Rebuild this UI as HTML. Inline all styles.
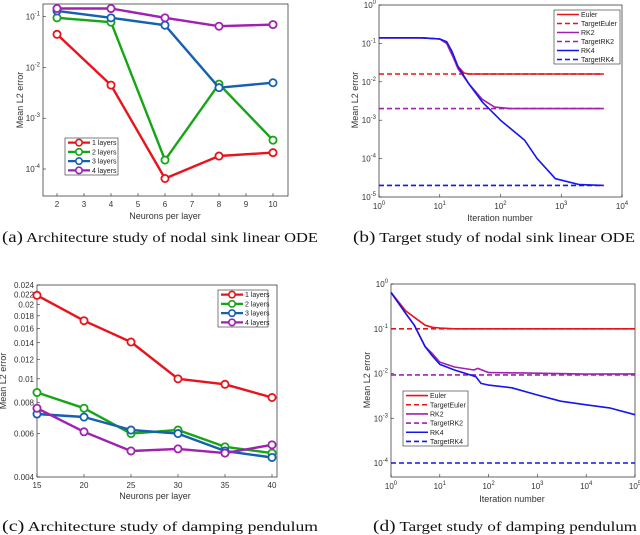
<!DOCTYPE html>
<html><head><meta charset="utf-8">
<style>
body{margin:0;background:#fff;width:640px;height:535px;overflow:hidden}
svg{display:block}
text{font-family:"Liberation Sans",sans-serif}
.cap{font-family:"Liberation Serif",serif;font-size:14px;fill:#111}
</style></head><body>
<svg id="fig" width="640" height="535" viewBox="0 0 640 535" xmlns="http://www.w3.org/2000/svg">
<text class="cap" x="2" y="242" textLength="316" lengthAdjust="spacingAndGlyphs"><tspan font-size="16">(a)</tspan> Architecture study of nodal sink linear ODE</text>
<text class="cap" x="353" y="242" textLength="282" lengthAdjust="spacingAndGlyphs"><tspan font-size="16">(b)</tspan> Target study of nodal sink linear ODE</text>
<text class="cap" x="2" y="531" textLength="316" lengthAdjust="spacingAndGlyphs"><tspan font-size="16">(c)</tspan> Architecture study of damping pendulum</text>
<text class="cap" x="373" y="531" textLength="264" lengthAdjust="spacingAndGlyphs"><tspan font-size="16">(d)</tspan> Target study of damping pendulum</text>
</svg>
<script>
// ---- data ----
const aX=[2,4,6,8,10];
const a1=[0.045,0.0045,6.5e-5,1.8e-4,2.1e-4];
const a2=[0.095,0.078,1.5e-4,4.7e-3,3.7e-4];
const a3=[0.13,0.095,0.068,4e-3,5e-3];
const a4=[0.145,0.145,0.095,0.065,0.07];
const cX=[15,20,25,30,35,40];
const c1=[0.0218,0.0172,0.0141,0.0100,0.0095,0.0084];
const c2=[0.0088,0.0076,0.0060,0.0062,0.0053,0.0050];
const c3=[0.0072,0.0070,0.0062,0.0060,0.0051,0.0048];
const c4=[0.0076,0.0061,0.0051,0.0052,0.0050,0.0054];
const bEulerX=[1,5,10,13,16,20,25,30,100,1000,5000];
const bEulerY=[0.14,0.14,0.13,0.1,0.05,0.025,0.017,0.016,0.016,0.016,0.016];
const bRK2X=[1,5,10,13,16,20,30,50,80,150,1000,5000];
const bRK2Y=[0.14,0.14,0.13,0.1,0.05,0.022,0.009,0.0035,0.0022,0.002,0.002,0.002];
const bRK4X=[1,5,10,13,16,20,30,50,100,250,400,800,2000,5000];
const bRK4Y=[0.14,0.14,0.13,0.11,0.06,0.025,0.009,0.003,0.001,3e-4,1e-4,3e-5,2.1e-5,2e-5];
const bTargets=[0.016,0.002,2e-5];
const dEulerX=[1,2,3,5,7,10,20,100,1e5];
const dEulerY=[0.65,0.25,0.18,0.12,0.108,0.104,0.1,0.1,0.1];
const dRK2X=[1,2,3,5,7,10,20,50,60,100,500,1e4,1e5];
const dRK2Y=[0.65,0.22,0.12,0.04,0.028,0.018,0.014,0.012,0.013,0.0105,0.0103,0.0097,0.0098];
const dRK4X=[1,2,3,5,7,10,20,55,70,100,300,1000,3000,1e4,3e4,1e5];
const dRK4Y=[0.65,0.22,0.12,0.04,0.025,0.016,0.012,0.0085,0.006,0.0055,0.0048,0.0033,0.0024,0.002,0.0017,0.0012];
const dTargets=[0.1,0.0093,1e-4];
const legA=['1 layers','2 layers','3 layers','4 layers'];
const legB=['Euler','TargetEuler','RK2','TargetRK2','RK4','TargetRK4'];
const ticksA=[2,3,4,5,6,7,8,9,10];
const ticksC=[15,20,25,30,35,40];
const ticksCy=[0.004,0.006,0.008,0.01,0.012,0.014,0.016,0.018,0.02,0.022,0.024];

const NS='http://www.w3.org/2000/svg';
const svg=document.getElementById('fig');
function mk(tag,attrs,parent,txt){const e=document.createElementNS(NS,tag);for(const k in attrs)e.setAttribute(k,attrs[k]);if(txt!==undefined)e.textContent=txt;(parent||svg).appendChild(e);return e;}
const RED='#e8131b',GRN='#16a516',BLU='#1560b0',MAG='#a020b0',PBL='#1515f0';
function lin(d0,d1,p0,p1){return v=>p0+(v-d0)/(d1-d0)*(p1-p0);}
function lg(d0,d1,p0,p1){return v=>p0+(Math.log10(v)-d0)/(d1-d0)*(p1-p0);}
function sup(g,x,y,e,anchor){const t=mk('text',{x:x,y:y,'font-size':8,fill:'#333','text-anchor':anchor},g);t.appendChild(document.createTextNode('10'));const s=document.createElementNS(NS,'tspan');s.setAttribute('dy',-4);s.setAttribute('font-size',6);s.textContent=e;t.appendChild(s);return t;}
function box(g,L,R,T,B){mk('rect',{x:L,y:T,width:R-L,height:B-T,fill:'none',stroke:'#262626','stroke-width':0.7},g);}
function path(g,xs,ys,sx,sy,col,w,dash,name){const d=xs.map((x,i)=>(i?'L':'M')+sx(x).toFixed(1)+' '+sy(ys[i]).toFixed(1)).join('');const p=mk('path',{d:d,fill:'none',stroke:col,'stroke-width':w,'stroke-dasharray':dash||'none','stroke-linejoin':'round'},g);

return p;}
function marks(g,xs,ys,sx,sy,col,name){xs.forEach((x,i)=>{const c=mk('circle',{cx:sx(x),cy:sy(ys[i]),r:3.6,fill:'#fff',stroke:col,'stroke-width':1.8},g);

});}
function ylab(g,x,y,t){mk('text',{x:x,y:y,'font-size':9,fill:'#333','text-anchor':'middle',transform:`rotate(-90 ${x} ${y})`},g,t);}
function xlab(g,x,y,t){mk('text',{x:x,y:y,'font-size':9,fill:'#333','text-anchor':'middle'},g,t);}
function legend(g,x,y,w,h,labels,cols,dashes,mark){mk('rect',{x:x,y:y,width:w,height:h,fill:'#fff',stroke:'#262626','stroke-width':0.6},g);const dy=h/labels.length;labels.forEach((l,i)=>{const cy=y+dy*(i+0.5);const e=mk('g',{},g);


mk('line',{x1:x+3,x2:x+25,y1:cy,y2:cy,stroke:cols[i],'stroke-width':mark?2.2:1.6,'stroke-dasharray':dashes&&dashes[i]?'5 3':'none'},e);if(mark)mk('circle',{cx:x+14,cy:cy,r:3.2,fill:'#fff',stroke:cols[i],'stroke-width':1.6},e);mk('text',{x:x+27,y:cy+2.5,'font-size':7,fill:'#222'},e,l);});}

// ---- (a) ----
{const g=mk('g',{});
const L=43,R=288,T=4,B=196;const sx=lin(2,10,57,273),sy=lg(-4,-1,169,16.7);
ticksA.forEach(t=>{mk('line',{x1:sx(t),x2:sx(t),y1:B,y2:B-3,stroke:'#262626','stroke-width':0.6},g);mk('text',{x:sx(t),y:B+11,'font-size':8,fill:'#333','text-anchor':'middle'},g,t);});
[-4,-3,-2,-1].forEach(e=>{const y=sy(Math.pow(10,e));mk('line',{x1:L,x2:L+3,y1:y,y2:y,stroke:'#262626','stroke-width':0.6},g);sup(g,L-3,y+3,e,'end');});
box(g,L,R,T,B);
[[a1,RED,'1-layers'],[a2,GRN,'2-layers'],[a3,BLU,'3-layers'],[a4,MAG,'4-layers']].forEach(s=>{path(g,aX,s[0],sx,sy,s[1],2.4,null,'series-a-'+s[2]);marks(g,aX,s[0],sx,sy,s[1],'series-a-'+s[2]);});
ylab(g,23,100,'Mean L2 error');xlab(g,165,219,'Neurons per layer');
legend(g,65,138,53,37,legA,[RED,GRN,BLU,MAG],null,true);}

// ---- (c) ----
{const g=mk('g',{});
const L=37,R=277,T=285,B=477;const sx=lin(15,40,37,272),sy=lg(Math.log10(0.004),Math.log10(0.024),477,285);
ticksC.forEach(t=>{mk('line',{x1:sx(t),x2:sx(t),y1:B,y2:B-3,stroke:'#262626','stroke-width':0.6},g);mk('text',{x:sx(t),y:B+11,'font-size':8,fill:'#333','text-anchor':'middle'},g,t);});
ticksCy.forEach(t=>{const y=sy(t);mk('line',{x1:L,x2:L+3,y1:y,y2:y,stroke:'#262626','stroke-width':0.6},g);mk('text',{x:L-3,y:y+3,'font-size':8,fill:'#333','text-anchor':'end'},g,t);});
box(g,L,R,T,B);
[[c1,RED,'1-layers'],[c2,GRN,'2-layers'],[c3,BLU,'3-layers'],[c4,MAG,'4-layers']].forEach(s=>{path(g,cX,s[0],sx,sy,s[1],2.4,null,'series-c-'+s[2]);marks(g,cX,s[0],sx,sy,s[1],'series-c-'+s[2]);});
ylab(g,6,381,'Mean L2 error');xlab(g,155,499,'Neurons per layer');
legend(g,218,290,50,37,legA,[RED,GRN,BLU,MAG],null,true);}

// ---- (b) ----
{const g=mk('g',{});
const L=379,R=622,T=5,B=197;const sx=lg(0,4,379,622),sy=lg(-5,0,197,5);
[0,1,2,3,4].forEach(e=>{const x=sx(Math.pow(10,e));mk('line',{x1:x,x2:x,y1:B,y2:B-3,stroke:'#262626','stroke-width':0.6},g);sup(g,x,B+12,e,'middle');});
[-5,-4,-3,-2,-1,0].forEach(e=>{const y=sy(Math.pow(10,e));mk('line',{x1:L,x2:L+3,y1:y,y2:y,stroke:'#262626','stroke-width':0.6},g);sup(g,L-3,y+3,e,'end');});
box(g,L,R,T,B);
const tx=[1,5000];
path(g,tx,[bTargets[0],bTargets[0]],sx,sy,RED,1.6,'5 3','target-euler-b');
path(g,tx,[bTargets[1],bTargets[1]],sx,sy,MAG,1.6,'5 3','target-rk2-b');
path(g,tx,[bTargets[2],bTargets[2]],sx,sy,PBL,1.6,'5 3','target-rk4-b');
path(g,bEulerX,bEulerY,sx,sy,RED,1.6,null,'euler-b');
path(g,bRK2X,bRK2Y,sx,sy,MAG,1.6,null,'rk2-b');
path(g,bRK4X,bRK4Y,sx,sy,PBL,1.6,null,'rk4-b');
ylab(g,358,100,'Mean L2 error');xlab(g,500,221,'Iteration number');
legend(g,554,10,66,54,legB,[RED,RED,MAG,MAG,PBL,PBL],[0,1,0,1,0,1],false);}

// ---- (d) ----
{const g=mk('g',{});
const L=391,R=635,T=284,B=477;const sx=lg(0,5,391,635),sy=lg(-4,0,463,284);
[0,1,2,3,4,5].forEach(e=>{const x=sx(Math.pow(10,e));mk('line',{x1:x,x2:x,y1:B,y2:B-3,stroke:'#262626','stroke-width':0.6},g);sup(g,x,B+12,e,'middle');});
[-4,-3,-2,-1,0].forEach(e=>{const y=sy(Math.pow(10,e));mk('line',{x1:L,x2:L+3,y1:y,y2:y,stroke:'#262626','stroke-width':0.6},g);sup(g,L-3,y+3,e,'end');});
box(g,L,R,T,B);
const tx=[1,1e5];
path(g,tx,[dTargets[0],dTargets[0]],sx,sy,RED,1.6,'5 3','target-euler-d');
path(g,tx,[dTargets[1],dTargets[1]],sx,sy,MAG,1.6,'5 3','target-rk2-d');
path(g,tx,[dTargets[2],dTargets[2]],sx,sy,PBL,1.6,'5 3','target-rk4-d');
path(g,dEulerX,dEulerY,sx,sy,RED,1.6,null,'euler-d');
path(g,dRK2X,dRK2Y,sx,sy,MAG,1.6,null,'rk2-d');
path(g,dRK4X,dRK4Y,sx,sy,PBL,1.6,null,'rk4-d');
ylab(g,370,380,'Mean L2 error');xlab(g,512,502,'Iteration number');
legend(g,403,391,65,55,legB,[RED,RED,MAG,MAG,PBL,PBL],[0,1,0,1,0,1],false);}
</script>
</body></html>
